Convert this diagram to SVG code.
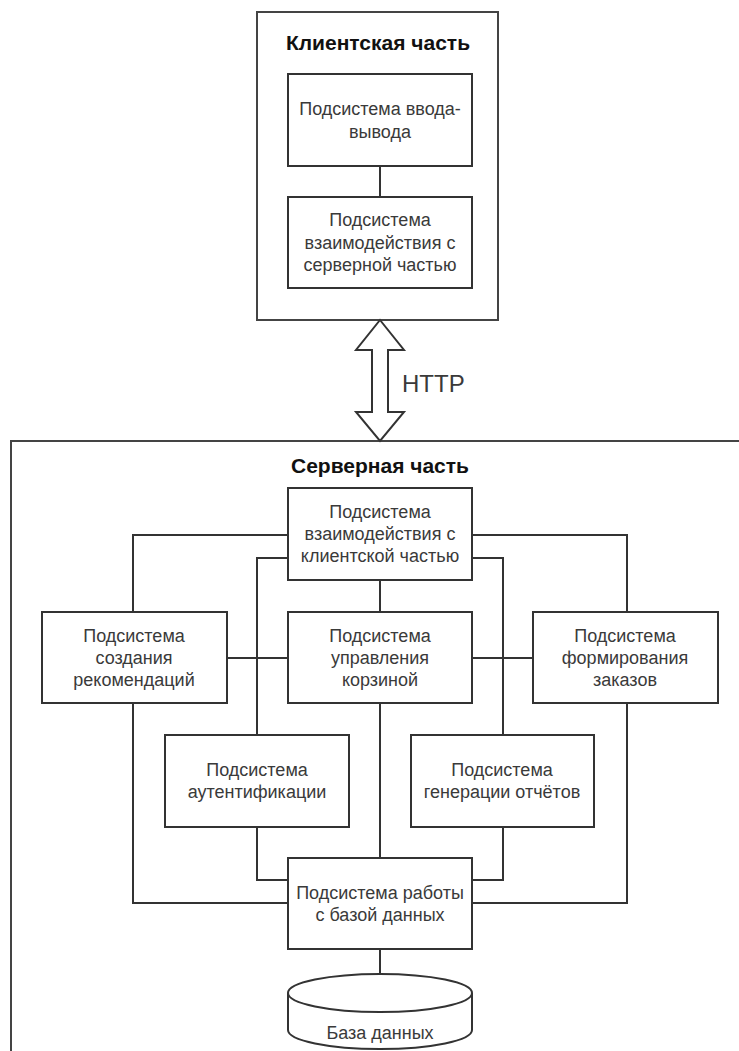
<svg xmlns="http://www.w3.org/2000/svg" width="739" height="1051" viewBox="0 0 739 1051">
<style>
.box{fill:#fff;stroke:#333;stroke-width:2}
.outer{fill:none;stroke:#444;stroke-width:2}
.con{fill:none;stroke:#333;stroke-width:2}
text{font-family:"Liberation Sans",Arial,sans-serif;font-size:18px;fill:#3a3a3a;text-anchor:middle}
.title{font-weight:bold;font-size:21px;fill:#111}
.http{font-size:24px;text-anchor:start}
</style>
<rect width="739" height="1051" fill="#fff"/>
<g id="client">
<rect class="outer" x="257" y="12" width="241" height="308"/>
<text class="title" x="378" y="50">Клиентская часть</text>
</g>
<g id="server">
<rect class="outer" x="11" y="441" width="740" height="640"/>
<text class="title" x="380" y="473">Серверная часть</text>
</g>
<g id="connectors">
<line class="con" x1="380" y1="166" x2="380" y2="197"/>
<path class="con" d="M288,535 H133 V612"/>
<path class="con" d="M288,558 H257 V735"/>
<path class="con" d="M472,535 H627 V612"/>
<path class="con" d="M472,558 H503 V735"/>
<path class="con" d="M380,580 V612"/>
<path class="con" d="M227,658 H288"/>
<path class="con" d="M472,658 H533"/>
<path class="con" d="M257,827 V880 H288"/>
<path class="con" d="M503,827 V880 H472"/>
<path class="con" d="M133,703 V903 H288"/>
<path class="con" d="M627,703 V903 H472"/>
<path class="con" d="M380,703 V858"/>
<path class="con" d="M380,949 V974"/>
</g>
<g id="http">
<polygon class="box" stroke-width="1.5" points="380,320 404,350 388,350 388,412 404,412 380,441 356,412 372,412 372,350 356,350"/>
<text class="http" x="402" y="392">HTTP</text>
</g>
<g id="io">
<rect class="box" x="288" y="74" width="184" height="92"/>
<text x="380" y="115">Подсистема ввода-</text>
<text x="380" y="138">вывода</text>
</g>
<g id="client-net">
<rect class="box" x="288" y="197" width="184" height="91"/>
<text x="380" y="226">Подсистема</text>
<text x="380" y="249">взаимодействия с</text>
<text x="380" y="271">серверной частью</text>
</g>
<g id="server-net">
<rect class="box" x="288" y="488" width="184" height="92"/>
<text x="380" y="518">Подсистема</text>
<text x="380" y="540">взаимодействия с</text>
<text x="380" y="562">клиентской частью</text>
</g>
<g id="recommend">
<rect class="box" x="42" y="612" width="185" height="91"/>
<text x="134" y="642">Подсистема</text>
<text x="134" y="664">создания</text>
<text x="134" y="686">рекомендаций</text>
</g>
<g id="cart">
<rect class="box" x="288" y="612" width="184" height="91"/>
<text x="380" y="642">Подсистема</text>
<text x="380" y="664">управления</text>
<text x="380" y="686">корзиной</text>
</g>
<g id="orders">
<rect class="box" x="533" y="612" width="185" height="91"/>
<text x="625" y="642">Подсистема</text>
<text x="625" y="664">формирования</text>
<text x="625" y="686">заказов</text>
</g>
<g id="auth">
<rect class="box" x="165" y="735" width="184" height="92"/>
<text x="257" y="776">Подсистема</text>
<text x="257" y="798">аутентификации</text>
</g>
<g id="reports">
<rect class="box" x="411" y="735" width="183" height="92"/>
<text x="502" y="776">Подсистема</text>
<text x="502" y="798">генерации отчётов</text>
</g>
<g id="dbsub">
<rect class="box" x="288" y="858" width="184" height="91"/>
<text x="380" y="899">Подсистема работы</text>
<text x="380" y="921">с базой данных</text>
</g>
<g id="db">
<path class="box" d="M288,993 A92,19 0 0 1 472,993 V1030 A92,19 0 0 1 288,1030 Z"/>
<path class="con" d="M288,993 A92,19 0 0 0 472,993"/>
<text x="380" y="1039">База данных</text>
</g>
</svg>
